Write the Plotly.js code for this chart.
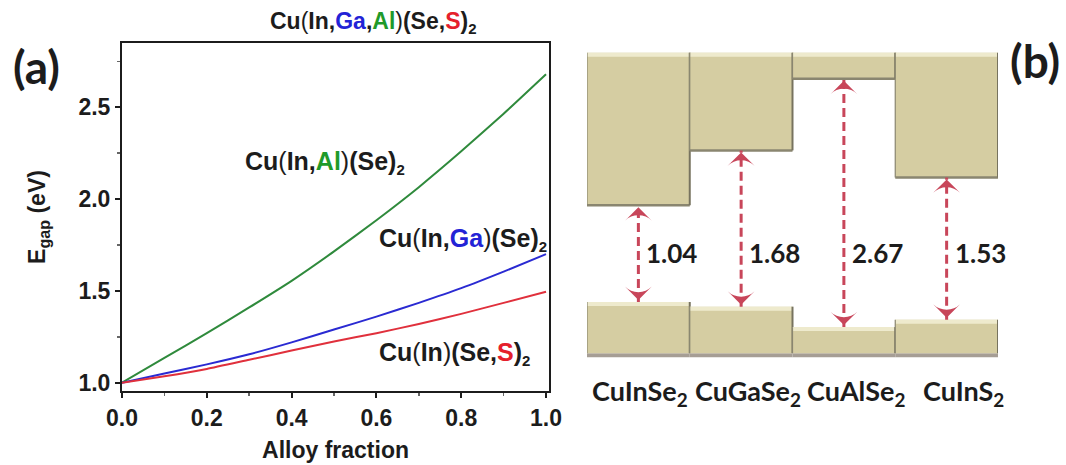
<!DOCTYPE html>
<html>
<head>
<meta charset="utf-8">
<script src="https://cdn.plot.ly/plotly-3.0.1.min.js"></script>
<style>
  html, body { margin: 0; padding: 0; background: #ffffff; }
  #chart { width: 1066px; height: 465px; }
</style>
</head>
<body>
<div id="chart"></div>
<script>
// (a) Band gap of the three alloy families versus alloy fraction
const alloyFraction = [0.0, 0.1, 0.2, 0.3, 0.4, 0.5, 0.6, 0.7, 0.8, 0.9, 1.0];
const gapInAlSe = [1.00, 1.135, 1.27, 1.41, 1.555, 1.715, 1.885, 2.065, 2.26, 2.465, 2.68];
const gapInGaSe = [1.00, 1.05, 1.10, 1.155, 1.22, 1.29, 1.36, 1.435, 1.515, 1.605, 1.70];
const gapInSeS  = [1.00, 1.035, 1.075, 1.125, 1.175, 1.225, 1.27, 1.32, 1.375, 1.435, 1.495];

// (b) End-member band alignment (eV, valence band maximum relative to CuInSe2)
const compounds = ['CuInSe<sub>2</sub>', 'CuGaSe<sub>2</sub>', 'CuAlSe<sub>2</sub>', 'CuInS<sub>2</sub>'];
const bandGaps  = [1.04, 1.68, 2.67, 1.53];
const vbmOffsets = [0.00, -0.05, -0.27, -0.19];

const ARIAL = 'Liberation Sans, Arial, sans-serif';
const CALI = 'Lato, Noto Sans, sans-serif';
const INK = '#1c1c1c';
const GREEN = '#2f8a3c', BLUE = '#2a2ad2', RED = '#e0303c';
const TXT_GREEN = '#1f9a2a', TXT_BLUE = '#2323d6', TXT_RED = '#e5202c';
const ARROW = '#c8465a';

// thin, lighter parentheses around the cation group
const tp = s => '<span style="font-weight:400">' + s + '</span>';
const col = (s, c) => '<span style="color:' + c + '">' + s + '</span>';
const sub2 = '<sub><span style="font-size:15px">2</span></sub>';

const curveLine = c => ({ color: c, width: 2, shape: 'spline', smoothing: 0.5 });
const traces = [
  { x: alloyFraction, y: gapInAlSe, mode: 'lines', line: curveLine(GREEN), xaxis: 'x', yaxis: 'y' },
  { x: alloyFraction, y: gapInGaSe, mode: 'lines', line: curveLine(BLUE), xaxis: 'x', yaxis: 'y' },
  { x: alloyFraction, y: gapInSeS,  mode: 'lines', line: curveLine(RED), xaxis: 'x', yaxis: 'y' }
];

// band boxes for panel (b)
const CB_TOP = 2.68, VB_BOTTOM = -0.55;
const FILL = '#d5cda2', LIGHT = '#eeeacd', EDGE = '#8a8670', DARK = '#77735f', SHADOW = '#a69e95';
const shapes = [];
compounds.forEach((c, i) => {
  const vbm = vbmOffsets[i];
  const cbm = vbm + bandGaps[i];
  const xl = i - 0.5, xr = i + 0.5;
  // conduction band block
  shapes.push({ type: 'rect', xref: 'x2', yref: 'y2', x0: xl, x1: xr, y0: cbm, y1: CB_TOP,
                fillcolor: FILL, line: { width: 0 }, layer: 'below' });
  shapes.push({ type: 'rect', xref: 'x2', yref: 'y2', ysizemode: 'pixel', yanchor: CB_TOP,
                x0: xl, x1: xr, y0: -4, y1: 0, fillcolor: LIGHT, line: { width: 0 }, layer: 'below' });
  shapes.push({ type: 'line', xref: 'x2', yref: 'y2', x0: xl, x1: xr, y0: cbm, y1: cbm,
                line: { color: EDGE, width: 2.5 }, layer: 'below' });
  shapes.push({ type: 'line', xref: 'x2', yref: 'y2', x0: xl, x1: xl, y0: cbm, y1: CB_TOP,
                line: { color: EDGE, width: 1.2 }, layer: 'below' });
  shapes.push({ type: 'line', xref: 'x2', yref: 'y2', x0: xr, x1: xr, y0: cbm, y1: CB_TOP,
                line: { color: DARK, width: 2 }, layer: 'below' });
  // valence band block
  shapes.push({ type: 'rect', xref: 'x2', yref: 'y2', ysizemode: 'pixel', yanchor: VB_BOTTOM,
                x0: xl, x1: xr, y0: -4, y1: 0, fillcolor: SHADOW, line: { width: 0 }, layer: 'below' });
  shapes.push({ type: 'rect', xref: 'x2', yref: 'y2', x0: xl, x1: xr, y0: VB_BOTTOM, y1: vbm,
                fillcolor: FILL, line: { width: 0 }, layer: 'below' });
  shapes.push({ type: 'rect', xref: 'x2', yref: 'y2', ysizemode: 'pixel', yanchor: vbm,
                x0: xl, x1: xr, y0: -4, y1: 0, fillcolor: LIGHT, line: { width: 0 }, layer: 'below' });
  shapes.push({ type: 'line', xref: 'x2', yref: 'y2', x0: xl, x1: xl, y0: VB_BOTTOM, y1: vbm,
                line: { color: EDGE, width: 1.2 }, layer: 'below' });
  shapes.push({ type: 'line', xref: 'x2', yref: 'y2', x0: xr, x1: xr, y0: VB_BOTTOM, y1: vbm,
                line: { color: DARK, width: 2 }, layer: 'below' });

  // double-headed dashed gap arrow
  traces.push({
    x: [i, i], y: [vbm, cbm], xaxis: 'x2', yaxis: 'y2', mode: 'lines+markers',
    line: { color: ARROW, width: 3, dash: '9px,5px' },
    marker: { symbol: 'arrow-wide', size: 19, angle: [180, 0], standoff: 2, color: ARROW }
  });
});

const curveFont = { family: ARIAL, size: 25, color: INK, weight: 700 };
const annotations = [
  { xref: 'paper', yref: 'paper', x: 36 / 1066, y: 1 - 66 / 465, xanchor: 'center', yanchor: 'middle',
    text: '(a)', showarrow: false, font: { family: CALI, size: 46, color: INK, weight: 700 } },
  { xref: 'paper', yref: 'paper', x: 1035 / 1066, y: 1 - 60 / 465, xanchor: 'center', yanchor: 'middle',
    text: '(b)', showarrow: false, font: { family: CALI, size: 46, color: INK, weight: 700 } },
  { xref: 'paper', yref: 'paper', x: 373 / 1066, y: 1 - 22 / 465, xanchor: 'center', yanchor: 'middle', showarrow: false,
    text: 'Cu' + tp('(') + 'In,' + col('Ga', TXT_BLUE) + ',' + col('Al', TXT_GREEN) + tp(')') + '(Se,' + col('S', TXT_RED) + ')' + sub2,
    font: { family: ARIAL, size: 23, color: INK, weight: 700 } },
  { xref: 'x', yref: 'y', x: 0.479, y: 2.20, xanchor: 'center', yanchor: 'middle', showarrow: false,
    text: 'Cu' + tp('(') + 'In,' + col('Al', TXT_GREEN) + tp(')') + '(Se)' + sub2, font: curveFont },
  { xref: 'x', yref: 'y', x: 0.804, y: 1.78, xanchor: 'center', yanchor: 'middle', showarrow: false,
    text: 'Cu' + tp('(') + 'In,' + col('Ga', TXT_BLUE) + tp(')') + '(Se)' + sub2, font: curveFont },
  { xref: 'x', yref: 'y', x: 0.783, y: 1.16, xanchor: 'center', yanchor: 'middle', showarrow: false,
    text: 'Cu' + tp('(') + 'In' + tp(')') + '(Se,' + col('S', TXT_RED) + ')' + sub2, font: curveFont }
];

compounds.forEach((c, i) => {
  annotations.push({ xref: 'x2', yref: 'y2', x: i, y: 0.53, xanchor: 'left', yanchor: 'middle', xshift: 6, showarrow: false,
    text: bandGaps[i].toFixed(2), font: { family: CALI, size: 26, color: INK, weight: 700 } });
  annotations.push({ xref: 'x2', yref: 'paper', x: i, y: 1 - 392 / 465, xanchor: 'center', yanchor: 'middle',
    xshift: 2 + 5 * i, showarrow: false,
    text: c, font: { family: CALI, size: 27, color: INK, weight: 700 } });
});

const tickFont = { family: ARIAL, size: 23, color: INK, weight: 700 };
const titleFont = { family: ARIAL, size: 23, color: INK, weight: 700 };
const layout = {
  width: 1066, height: 465,
  margin: { l: 0, r: 0, t: 0, b: 0 },
  paper_bgcolor: '#ffffff', plot_bgcolor: 'rgba(0,0,0,0)',
  showlegend: false,
  xaxis: {
    domain: [122 / 1066, 549 / 1066], range: [0, 1.007], anchor: 'y',
    tick0: 0, dtick: 0.2, tickformat: '.1f', ticks: 'outside', ticklen: 5, tickwidth: 2, tickcolor: INK,
    showline: true, linewidth: 2, linecolor: INK, mirror: true, showgrid: false, zeroline: false,
    tickfont: tickFont,
    minor: { dtick: 0.1, ticks: 'outside', ticklen: 3, tickwidth: 1.5, tickcolor: '#666', showgrid: false },
    title: { text: 'Alloy fraction', font: titleFont, standoff: 12 }
  },
  yaxis: {
    domain: [1 - 391 / 465, 1 - 43 / 465], range: [0.955, 2.85], anchor: 'x',
    tick0: 0, dtick: 0.5, tickformat: '.1f', ticks: 'outside', ticklen: 5, tickwidth: 2, tickcolor: INK,
    showline: true, linewidth: 2, linecolor: INK, mirror: true, showgrid: false, zeroline: false,
    tickfont: tickFont,
    minor: { dtick: 0.25, ticks: 'outside', ticklen: 3, tickwidth: 1.5, tickcolor: '#666', showgrid: false },
    title: { text: 'E<sub>gap</sub> (eV)', font: titleFont, standoff: 26 }
  },
  xaxis2: { domain: [587 / 1066, 998 / 1066], range: [-0.5, 3.5], anchor: 'y2', visible: false },
  yaxis2: { domain: [1 - 370 / 465, 1 - 40 / 465], range: [-0.731, 2.817], anchor: 'x2', visible: false },
  shapes: shapes,
  annotations: annotations
};

Plotly.newPlot('chart', traces, layout, { staticPlot: true, displayModeBar: false });
</script>
</body>
</html>
